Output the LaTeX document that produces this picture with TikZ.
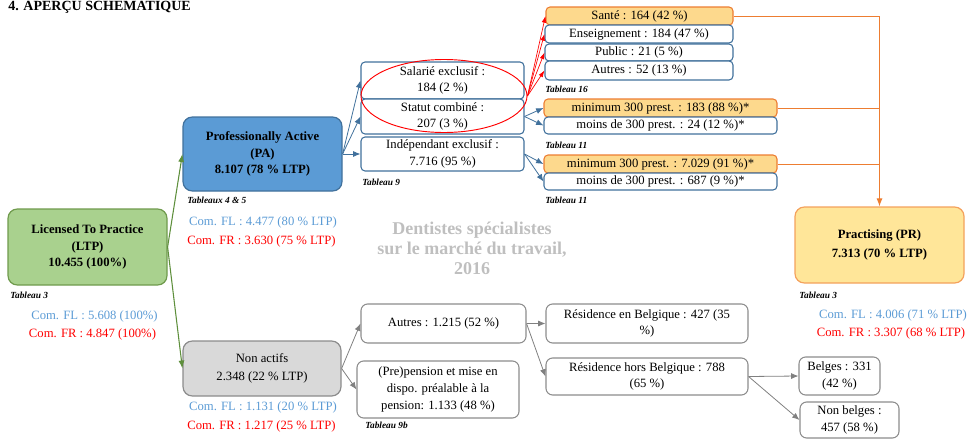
\documentclass[tikz,border=0pt]{standalone}
\usepackage{fontspec}
\setmainfont{Liberation Serif}
\usepackage{xcolor}
\usetikzlibrary{arrows.meta,shapes.geometric}

\definecolor{ltpgreen}{HTML}{A9D18E}
\definecolor{ltpedge}{HTML}{6F9A4C}
\definecolor{pablue}{HTML}{5B9BD5}
\definecolor{paedge}{HTML}{41719C}
\definecolor{prfill}{HTML}{FFE699}
\definecolor{predge}{HTML}{F4A15C}
\definecolor{orfill}{HTML}{FDD98D}
\definecolor{oredge}{HTML}{ED7D31}
\definecolor{nagray}{HTML}{D9D9D9}
\definecolor{naedge}{HTML}{8C8C8C}
\definecolor{flblue}{HTML}{5B9BD5}
\definecolor{frred}{HTML}{FF0000}
\definecolor{titlegray}{HTML}{BFBFBF}
\definecolor{arrgray}{HTML}{808080}
\definecolor{arrgreen}{HTML}{5E8F3C}

\newcommand{\px}{0.75pt}

\tikzset{
    bigbox/.style={draw, line width=0.9pt, rounded corners=7pt, align=center,
        inner sep=1pt, font=\fontsize{9.5}{12.5}\selectfont\bfseries},
    smallbox/.style={draw=paedge, line width=0.8pt, fill=white, rounded corners=3pt,
        align=center, inner sep=1pt, font=\fontsize{9.5}{12.5}\selectfont},
    graybox/.style={smallbox, draw=naedge, rounded corners=5pt},
    orbox/.style={smallbox, draw=oredge, fill=orfill},
    tabl/.style={anchor=west, inner sep=0pt, font=\fontsize{7}{8}\selectfont\bfseries\itshape},
    comfl/.style={text=flblue, inner sep=0pt, font=\fontsize{9.5}{11}\selectfont},
    comfr/.style={comfl, text=frred},
    bluearr/.style={draw=paedge, line width=0.6pt, -{Latex[length=5.5pt,width=4.5pt]}},
    grayarr/.style={draw=arrgray, line width=0.6pt, -{Latex[length=5.5pt,width=4.5pt]}},
    greenarr/.style={draw=arrgreen, line width=0.8pt, -{Latex[length=6pt,width=4.5pt]}},
    redarr/.style={draw=red, line width=0.5pt, -{Latex[length=5pt,width=3.5pt]}},
    orline/.style={draw=oredge, line width=0.7pt}
}

\begin{document}
\begin{tikzpicture}[x=0.75pt, y=-0.75pt]
    \useasboundingbox (0,0) rectangle (967,439);

    \node[anchor=base west, inner sep=0pt, font=\fontsize{10.5}{12}\selectfont\bfseries] (head) at (8,10) {4. APERÇU SCHEMATIQUE};

    % main boxes
    \node[bigbox, fill=ltpgreen, draw=ltpedge, minimum width=159*\px, minimum height=76*\px] (ltp) at (87.5,247)
        {Licensed To Practice\\(LTP)\\10.455 (100\%)};
    \node[bigbox, fill=pablue, draw=paedge, minimum width=159*\px, minimum height=74*\px] (pa) at (262.5,154)
        {Professionally Active\\(PA)\\8.107 (78 \% LTP)};
    \node[bigbox, fill=prfill, draw=predge, minimum width=169*\px, minimum height=76*\px, font=\fontsize{9.5}{14}\selectfont\bfseries] (pr) at (879.5,245)
        {Practising (PR)\\7.313 (70 \% LTP)};
    \node[bigbox, fill=nagray, draw=naedge, minimum width=158*\px, minimum height=55*\px, font=\fontsize{9.5}{14}\selectfont] (na) at (262,368.5)
        {Non actifs\\2.348 (22 \% LTP)};

    % professionally active branch
    \node[smallbox, minimum width=163*\px, minimum height=37*\px] (sal) at (442.5,80.5) {Salarié exclusif :\\184 (2 \%)};
    \node[smallbox, minimum width=163*\px, minimum height=35*\px] (sta) at (442.5,116.5) {Statut combiné :\\207 (3 \%)};
    \node[smallbox, minimum width=163*\px, minimum height=34*\px] (ind) at (442.5,154) {Indépendant exclusif :\\7.716 (95 \%)};

    \node[orbox, minimum width=187*\px, minimum height=18*\px] (san) at (639.5,16) {Santé : 164 (42 \%)};
    \node[smallbox, minimum width=188*\px, minimum height=18*\px] (ens) at (639,34) {Enseignement : 184 (47 \%)};
    \node[smallbox, minimum width=188*\px, minimum height=17*\px] (pub) at (639,52.5) {Public : 21 (5 \%)};
    \node[smallbox, minimum width=188*\px, minimum height=19*\px] (aut) at (639,70.5) {Autres : 52 (13 \%)};

    \node[orbox, minimum width=233*\px, minimum height=18*\px] (minA) at (660.5,108) {minimum 300 prest. : 183 (88 \%)*};
    \node[smallbox, minimum width=233*\px, minimum height=17*\px] (moiA) at (660.5,125.5) {moins de 300 prest. : 24 (12 \%)*};
    \node[orbox, minimum width=233*\px, minimum height=18*\px] (minB) at (660.5,164) {minimum 300 prest. : 7.029 (91 \%)*};
    \node[smallbox, minimum width=233*\px, minimum height=17*\px] (moiB) at (660.5,181.5) {moins de 300 prest. : 687 (9 \%)*};

    % non actifs branch
    \node[graybox, minimum width=165*\px, minimum height=39*\px] (oth) at (443.5,323.5) {Autres : 1.215 (52 \%)};
    \node[graybox, minimum width=162*\px, minimum height=57*\px] (pen) at (438,389.5)
        {(Pre)pension et mise en\\dispo. préalable à la\\pension: 1.133 (48 \%)};
    \node[graybox, minimum width=202*\px, minimum height=39*\px] (ren) at (647,323.5) {Résidence en Belgique : 427 (35\\\%)};
    \node[graybox, minimum width=202*\px, minimum height=37*\px] (rho) at (647,376.5) {Résidence hors Belgique : 788\\(65 \%)};
    \node[graybox, minimum width=81*\px, minimum height=38*\px] (bel) at (839.5,376) {Belges : 331\\(42 \%)};
    \node[graybox, minimum width=99*\px, minimum height=36*\px] (nbe) at (849.5,420) {Non belges :\\457 (58 \%)};

    \node[draw=red, ellipse, line width=0.7pt, minimum width=166*\px, minimum height=73*\px] (hl) at (444,96) {};

    % table references
    \node[tabl] (t3a) at (10,295) {Tableau 3};
    \node[tabl] (t45) at (187,200) {Tableaux 4 \& 5};
    \node[tabl] (t9) at (362,182) {Tableau 9};
    \node[tabl] (t16) at (545,89) {Tableau 16};
    \node[tabl] (t11a) at (545,145) {Tableau 11};
    \node[tabl] (t11b) at (545,200) {Tableau 11};
    \node[tabl] (t3b) at (799,295) {Tableau 3};
    \node[tabl] (t9b) at (365,425) {Tableau 9b};

    % community figures
    \node[comfl] (flltp) at (94.5,316) {Com. FL : 5.608 (100\%)};
    \node[comfr] (frltp) at (92.5,334) {Com. FR : 4.847 (100\%)};
    \node[comfl] (flpa) at (263,222) {Com. FL : 4.477 (80 \% LTP)};
    \node[comfr] (frpa) at (261.5,241) {Com. FR : 3.630 (75 \% LTP)};
    \node[comfl] (flpr) at (893,315) {Com. FL : 4.006 (71 \% LTP)};
    \node[comfr] (frpr) at (891,333) {Com. FR : 3.307 (68 \% LTP)};
    \node[comfl] (flna) at (263,407) {Com. FL : 1.131 (20 \% LTP)};
    \node[comfr] (frna) at (261.5,426) {Com. FR : 1.217 (25 \% LTP)};

    \node[text=titlegray, align=center, font=\fontsize{13.5}{15}\selectfont\bfseries] (title) at (472,248)
        {Dentistes spécialistes\\sur le marché du travail,\\2016};

    % connectors
    \draw[greenarr] (ltp.east) -- (pa.west);
    \draw[greenarr] (ltp.east) -- (na.west);

    \draw[bluearr] (pa.east) -- (sal.west);
    \draw[bluearr] (pa.east) -- (sta.west);
    \draw[bluearr] (pa.east) -- (ind.west);
    \draw[bluearr] (sta.east) -- (minA.west);
    \draw[bluearr] (sta.east) -- (moiA.west);
    \draw[bluearr] (ind.east) -- (minB.west);
    \draw[bluearr] (ind.east) -- (moiB.west);

    \draw[redarr] (hl.east) -- (san.west);
    \draw[redarr] (hl.east) -- (ens.west);
    \draw[redarr] (hl.east) -- (pub.west);
    \draw[redarr] (hl.east) -- (aut.west);

    \draw[orline, -{Latex[length=6pt,width=4.5pt]}] (san.east) -| (pr.north);
    \draw[orline] (minA.east) -- (minA.east -| pr.north);
    \draw[orline] (minB.east) -- (minB.east -| pr.north);

    \draw[grayarr] (na.east) -- (oth.west);
    \draw[grayarr] (na.east) -- (pen.west);
    \draw[grayarr] (oth.east) -- (ren.west);
    \draw[grayarr] (oth.east) -- (rho.west);
    \draw[grayarr] (rho.east) -- (bel.west);
    \draw[grayarr] (rho.east) -- (nbe.west);
\end{tikzpicture}
\end{document}
